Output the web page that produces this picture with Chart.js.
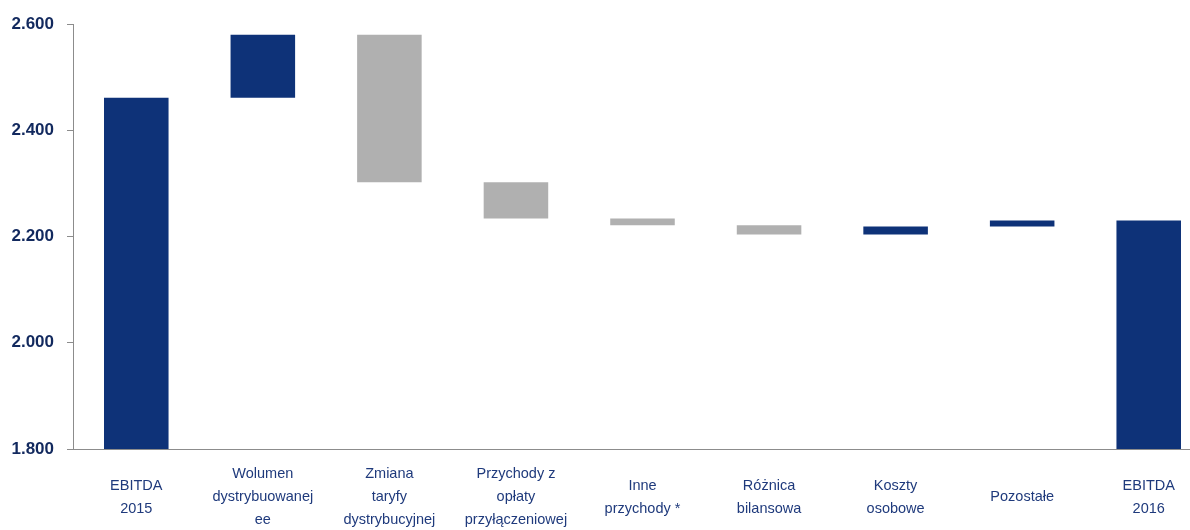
<!DOCTYPE html>
<html>
<head>
<meta charset="utf-8">
<script src="https://cdn.jsdelivr.net/npm/chart.js"></script>
<style>
  html, body { margin: 0; padding: 0; background: #fff; overflow: hidden; }
  #wrap { width: 1212px; height: 530px; }
</style>
</head>
<body>
<div id="wrap"><canvas id="chart"></canvas></div>
<script>
// data
const categories = [
  ["EBITDA", "2015"],
  ["Wolumen", "dystrybuowanej", "ee"],
  ["Zmiana", "taryfy", "dystrybucyjnej"],
  ["Przychody z", "opłaty", "przyłączeniowej"],
  ["Inne", "przychody *"],
  ["Różnica", "bilansowa"],
  ["Koszty", "osobowe"],
  ["Pozostałe"],
  ["EBITDA", "2016"]
];
const ebitda2015 = 2461;
const changes = [119, -278, -68, -13, -17, 15, 11];
const ebitda2016 = 2230;
const yTicks = [1800, 2000, 2200, 2400, 2600];

const BLUE = '#0e3278';
const GREY = '#b0b0b0';

// build floating bars for the waterfall
var bars = [[0, ebitda2015]];
var colors = [BLUE];
var level = ebitda2015;
changes.forEach(function (c) {
  bars.push([level, level + c]);
  colors.push(c >= 0 ? BLUE : GREY);
  level += c;
});
bars.push([0, ebitda2016]);
colors.push(BLUE);

function fmt(v) {
  return String(v).replace(/\B(?=(\d{3})+(?!\d))/g, '.');
}

new Chart(document.getElementById('chart'), {
  type: 'bar',
  data: {
    labels: categories,
    datasets: [{
      data: bars,
      backgroundColor: colors,
      borderWidth: 0,
      barPercentage: 0.51,
      categoryPercentage: 1
    }]
  },
  options: {
    responsive: true,
    maintainAspectRatio: false,
    animation: false,
    layout: { padding: { top: 24, right: 0, bottom: 0, left: 0 } },
    plugins: { legend: { display: false }, tooltip: { enabled: false } },
    scales: {
      x: {
        grid: { display: false },
        border: { display: true, color: '#8c8c8c', width: 1 },
        ticks: {
          color: '#1f3a7c',
          font: { family: "'Liberation Sans', Arial, sans-serif", size: 14.5, lineHeight: 1.59 },
          maxRotation: 0,
          autoSkip: false,
          crossAlign: 'center',
          padding: 17
        },
        afterFit: function (s) { s.height = 81; }
      },
      y: {
        min: 1800,
        max: 2600,
        afterBuildTicks: function (s) { s.ticks = yTicks.map(function (v) { return { value: v }; }); },
        grid: { drawOnChartArea: false, drawTicks: true, tickLength: 6, color: '#8c8c8c' },
        border: { display: true, color: '#8c8c8c', width: 1 },
        ticks: {
          color: '#12295e',
          font: { family: "'Liberation Sans', Arial, sans-serif", size: 17, weight: 'bold' },
          padding: 13,
          callback: function (v) { return fmt(v); }
        },
        afterFit: function (s) { s.width = 73; }
      }
    }
  }
});
</script>
</body>
</html>
